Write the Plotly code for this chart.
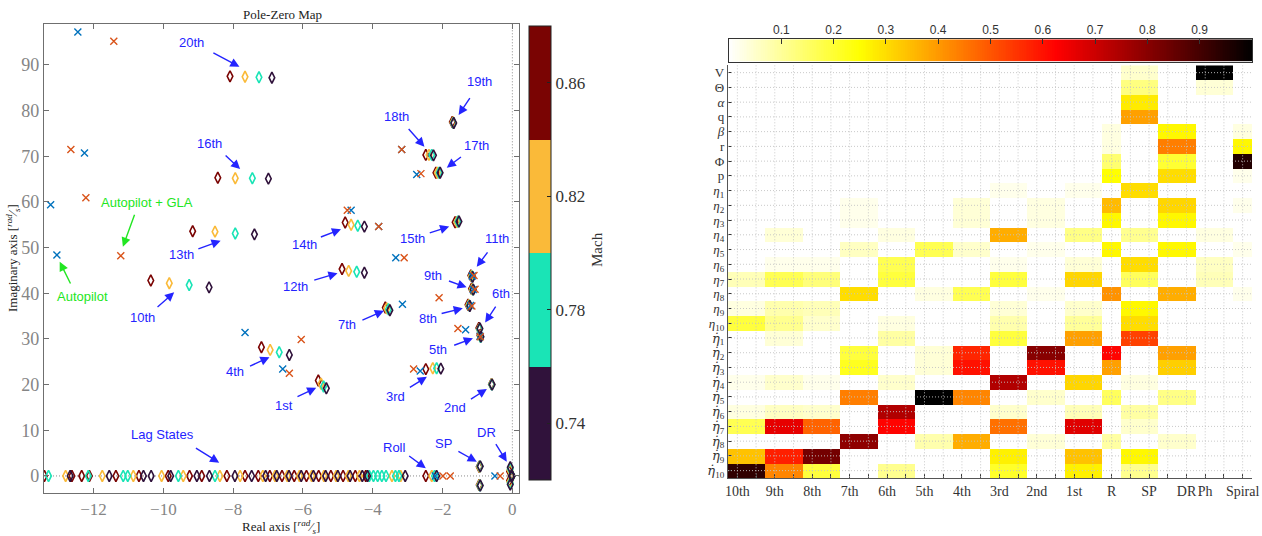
import plotly.graph_objects as go
import numpy as np

W, H = 1262, 536

# ======================= Pole-zero map data =======================
mach_values = [0.74, 0.78, 0.82, 0.86]
mach_scale = [[0, '#30123B'], [0.25, '#30123B'], [0.25, '#1AE4B6'], [0.5, '#1AE4B6'],
              [0.5, '#FABA39'], [0.75, '#FABA39'], [0.75, '#7A0403'], [1, '#7A0403']]

# mode order: 20th,16th,13th,10th,4th,1st,14th,12th,7th,19th,18th,17th,15th,11th,9th,8th,6th,5th,3rd,2nd,
#             Roll, SP+, SP-, DR+, DR-, Ph+, Ph-, Spiral
re_m086 = [-8.09, -8.44, -9.16, -10.36, -7.19, -5.56, -4.79, -4.88, -3.64, -1.72, -2.48, -2.19, -1.64, -1.19,
           -1.17, -1.27, -0.96, -0.93, -2.48, -0.60, -2.48, -0.95, -0.95, -0.08, -0.08, -0.03, -0.03, -0.01]
im_m086 = [87.5, 65.3, 53.6, 42.8, 28.2, 20.9, 55.5, 45.3, 36.9, 77.5, 70.3, 66.4, 55.55, 43.9,
           41.0, 37.5, 32.4, 30.8, 23.4, 20.1, 0.0, 2.0, -2.0, 1.0, -1.0, 0.1, -0.1, 0.0]
re_m082 = [-7.66, -7.94, -8.52, -9.83, -6.94, -5.48, -4.62, -4.69, -3.60, -1.70, -2.39, -2.15, -1.59, -1.17,
           -1.15, -1.25, -0.95, -0.92, -2.28, -0.59, -2.31, -0.94, -0.94, -0.07, -0.07, -0.03, -0.03, -0.01]
im_m082 = [87.4, 65.2, 53.5, 42.2, 27.6, 20.2, 55.0, 44.9, 36.7, 77.4, 70.3, 66.4, 55.6, 43.8,
           40.9, 37.4, 32.2, 30.6, 23.6, 20.1, 0.0, 2.0, -2.0, 1.3, -1.3, 0.1, -0.1, 0.0]
re_m078 = [-7.26, -7.45, -7.94, -9.26, -6.68, -5.41, -4.43, -4.46, -3.55, -1.69, -2.31, -2.10, -1.56, -1.15,
           -1.13, -1.23, -0.94, -0.91, -2.17, -0.59, -2.23, -0.93, -0.93, -0.06, -0.06, -0.02, -0.02, -0.01]
im_m078 = [87.3, 65.2, 53.1, 41.8, 27.1, 19.6, 54.8, 44.7, 36.5, 77.3, 70.3, 66.4, 55.7, 43.7,
           40.8, 37.3, 32.1, 30.4, 23.6, 20.0, 0.0, 2.1, -2.1, 1.6, -1.6, 0.1, -0.1, 0.0]
re_m074 = [-6.89, -6.99, -7.39, -8.69, -6.39, -5.33, -4.24, -4.24, -3.51, -1.68, -2.26, -2.07, -1.53, -1.14,
           -1.12, -1.22, -0.93, -0.90, -2.05, -0.58, -2.17, -0.92, -0.92, -0.06, -0.06, -0.02, -0.02, -0.01]
im_m074 = [87.2, 65.1, 52.9, 41.3, 26.5, 19.2, 54.6, 44.5, 36.3, 77.3, 70.2, 66.4, 55.7, 43.6,
           40.8, 37.2, 32.3, 30.5, 23.5, 20.0, 0.0, 2.1, -2.1, 1.9, -1.9, 0.1, -0.1, 0.0]

# aerodynamic lag states (real poles)
lag_m086 = [-13.41, -12.62, -12.34, -12.12, -11.36, -10.70, -9.86, -9.25, -8.90, -8.18, -7.66, -7.28,
            -6.95, -6.60, -6.25, -5.90, -5.55, -5.20, -4.85, -4.50, -4.20]
lag_m082 = [-12.80, -11.75, -10.86, -10.05, -9.43, -8.38, -7.80, -7.15, -6.80, -6.45, -6.10, -5.75,
            -5.40, -5.05, -4.70, -4.38, -3.45, -3.20]
lag_m078 = [-13.29, -12.15, -11.15, -11.02, -9.57, -8.52, -4.10, -3.98, -3.86, -3.74, -3.62, -3.35, -3.25]
lag_m074 = [-12.67, -11.55, -10.57, -10.35, -9.79, -9.04, -8.68, -7.95, -7.47, -7.07, -6.75, -6.40,
            -6.05, -5.70, -5.35, -5.00, -4.65, -4.30, -4.15, -3.07]

# closed-loop poles: Autopilot (blue x) and Autopilot + GLA (orange x)
ap_re = [-12.45, -12.26, -13.23, -13.05, -2.74, -3.17, -4.62, -3.83, -3.34, -1.34, -3.15, -6.58, -2.64,
         -7.66, -2.21, -0.50, -1.15, -1.12, -1.20, -0.93]
ap_im = [97.2, 70.7, 59.4, 48.4, 66.0, 71.5, 58.2, 54.6, 47.8, 32.0, 37.6, 23.4, 23.0,
         31.4, 0.0, 0.0, 43.8, 40.8, 37.3, 30.6]
gla_re = [-11.42, -12.65, -12.22, -11.22, -2.62, -3.17, -4.73, -3.83, -3.10, -2.10, -1.56, -6.05, -6.39,
          -2.83, -1.99, -1.78, -0.35, -1.10, -1.07, -1.16, -0.92]
gla_im = [95.2, 71.5, 60.9, 48.2, 66.2, 71.5, 58.2, 54.6, 47.8, 39.0, 32.3, 29.9, 22.5,
          23.4, 0.0, 0.0, 0.0, 43.9, 40.9, 37.2, 30.5]

# mode labels (text position, arrow tail, arrow head) in data units
mode_labels = ['20th', '16th', '13th', '10th', '4th', '1st', '14th', '12th', '7th', '19th', '18th', '17th',
               '15th', '11th', '9th', '8th', '6th', '5th', '3rd', '2nd', 'Lag States', 'Roll', 'SP', 'DR']
label_x = [-9.19, -8.68, -9.47, -10.59, -7.95, -6.54, -5.96, -6.20, -4.74, -0.95, -3.33, -1.02,
           -2.87, -0.43, -2.28, -2.42, -0.32, -2.12, -3.36, -1.64, -10.02, -3.39, -1.98, -0.75]
label_y = [95.0, 72.85, 48.4, 34.7, 22.8, 15.5, 50.6, 41.45, 33.1, 86.3, 78.7, 72.3,
           51.9, 52.1, 44.0, 34.5, 39.85, 27.6, 17.5, 14.95, 9.13, 6.28, 7.0, 9.48]
tail_x = [-8.61, -8.26, -9.04, -10.21, -7.56, -6.20, -5.53, -5.72, -4.34, -1.19, -3.01, -1.43,
          -2.41, -0.68, -1.86, -2.07, -0.45, -1.71, -2.98, -1.23, -9.11, -3.00, -1.59, -0.50]
tail_y = [92.8, 70.5, 49.6, 36.7, 23.9, 17.2, 52.2, 42.8, 34.0, 83.05, 76.3, 70.1,
          53.1, 49.3, 42.8, 35.5, 37.4, 28.5, 19.2, 16.6, 6.28, 4.6, 5.54, 7.29]
head_x = [-7.82, -7.80, -8.36, -9.69, -6.96, -5.62, -4.91, -5.01, -3.68, -1.54, -2.52, -1.88,
          -1.81, -1.02, -1.31, -1.42, -0.78, -1.13, -2.45, -0.73, -8.40, -2.48, -1.02, -0.16]
head_y = [89.6, 67.2, 51.5, 40.2, 26.0, 19.3, 54.0, 44.4, 36.2, 79.05, 72.1, 67.5,
          54.6, 45.8, 41.3, 36.7, 33.6, 30.15, 21.7, 19.05, 2.91, 1.69, 3.13, 3.13]

ctrl_labels = ['Autopilot + GLA', 'Autopilot']
ctrl_x = [-10.48, -12.31]
ctrl_y = [59.8, 39.3]
ctrl_tail_x = [-10.81, -12.64]
ctrl_tail_y = [57.5, 41.8]
ctrl_head_x = [-11.16, -12.97]
ctrl_head_y = [50.2, 46.9]

x_ticks = [-12, -10, -8, -6, -4, -2, 0]
y_ticks = [0, 10, 20, 30, 40, 50, 60, 70, 80, 90]

# ======================= Participation factor data =======================
DOT = '<span style="font-family:DejaVu Serif"><i>η̇</i></span>'
row_labels = ['V', 'Θ', '<i>α</i>', 'q', '<i>β</i>', 'r', 'Φ', 'p'] + \
             ['<i>η</i><sub>%d</sub>' % i for i in range(1, 11)] + \
             [DOT + '<sub>%d</sub>' % i for i in range(1, 11)]

#            V  Θ  α  q  β  r  Φ  p | η1..η10 | η̇1..η̇10
pf_10th = [0, 0, 0, 0, 0, 0, 0, 0, 0, 0, 0, 0, 0, 0, 0.07, 0, 0.03, 0.19,
           0, 0, 0, 0.02, 0, 0.03, 0.17, 0, 0.34, 0.93]
pf_9th = [0, 0, 0, 0, 0, 0, 0, 0, 0, 0, 0, 0.04, 0, 0.02, 0.17, 0, 0.08, 0.11,
          0.04, 0, 0, 0.05, 0, 0.06, 0.66, 0, 0.58, 0.43]
pf_8th = [0, 0, 0, 0, 0, 0, 0, 0, 0, 0, 0, 0, 0, 0.02, 0.13, 0, 0.07, 0.05,
          0, 0, 0, 0.02, 0, 0.05, 0.48, 0, 0.83, 0.19]
pf_7th = [0, 0, 0, 0, 0, 0, 0, 0, 0, 0.02, 0.02, 0, 0.06, 0, 0, 0.30, 0, 0,
          0, 0.19, 0.22, 0, 0.44, 0, 0, 0.79, 0, 0]
pf_6th = [0, 0, 0, 0, 0, 0, 0, 0, 0, 0, 0, 0.03, 0, 0.17, 0.19, 0, 0, 0.03,
          0.09, 0, 0, 0.05, 0, 0.74, 0.62, 0, 0, 0.11]
pf_5th = [0, 0, 0, 0, 0, 0, 0, 0, 0, 0, 0, 0, 0.17, 0, 0, 0.03, 0, 0,
          0, 0.04, 0.04, 0, 1.0, 0, 0, 0.08, 0, 0]
pf_4th = [0, 0, 0, 0, 0, 0, 0, 0, 0, 0.04, 0.04, 0, 0.05, 0, 0, 0.17, 0, 0,
          0, 0.57, 0.60, 0, 0.43, 0, 0, 0.37, 0, 0]
pf_3rd = [0, 0, 0, 0, 0, 0, 0, 0, 0.02, 0, 0, 0.37, 0, 0.02, 0.19, 0, 0.04, 0.08,
          0.19, 0, 0, 0.74, 0, 0.05, 0.46, 0, 0.27, 0.21]
pf_2nd = [0, 0, 0, 0, 0, 0, 0, 0, 0, 0.03, 0.03, 0, 0.02, 0, 0, 0.02, 0, 0,
          0, 0.80, 0.60, 0, 0.05, 0, 0, 0.04, 0, 0]
pf_1st = [0, 0, 0, 0, 0, 0, 0, 0, 0.02, 0, 0, 0.12, 0, 0.04, 0.31, 0, 0.05, 0.10,
          0.39, 0, 0, 0.31, 0, 0.07, 0.67, 0, 0.34, 0.27]
pf_R = [0, 0, 0, 0, 0.03, 0.03, 0.14, 0.25, 0, 0.35, 0.26, 0, 0.26, 0, 0, 0.41, 0, 0,
        0, 0.62, 0.39, 0, 0.16, 0, 0, 0.09, 0, 0]
pf_SP = [0.05, 0.125, 0.28, 0.39, 0, 0, 0, 0, 0.30, 0, 0, 0.11, 0, 0.30, 0.16, 0, 0.26, 0.30,
         0.53, 0, 0, 0.03, 0, 0.09, 0.05, 0, 0.26, 0.11]
pf_DR = [0, 0, 0, 0, 0.26, 0.44, 0.20, 0.30, 0, 0.31, 0.26, 0, 0.26, 0, 0, 0.37, 0, 0,
         0, 0.39, 0.32, 0, 0.12, 0, 0, 0.05, 0, 0]
pf_Ph = [1.0, 0.04, 0, 0, 0, 0, 0, 0, 0, 0, 0, 0.03, 0, 0.06, 0.07, 0, 0, 0,
         0, 0, 0, 0, 0, 0, 0, 0, 0, 0]
pf_Spiral = [0, 0, 0, 0, 0.03, 0.26, 0.95, 0.02, 0, 0.02, 0, 0, 0.02, 0, 0, 0.02, 0, 0,
             0, 0, 0, 0, 0, 0, 0, 0, 0, 0]

pf_groups = [pf_10th, pf_9th, pf_8th, pf_7th, pf_6th, pf_5th, pf_4th, pf_3rd, pf_2nd, pf_1st,
             pf_R, pf_SP, pf_DR, pf_Ph, pf_Spiral]
group_widths = [2, 2, 2, 2, 2, 2, 2, 2, 2, 2, 1, 2, 2, 2, 1]   # eigenvalues per mode
col_tick_labels = ['10th', '9th', '8th', '7th', '6th', '5th', '4th', '3rd', '2nd', '1st', 'R', 'SP',
                   'DR', 'Ph', 'Spiral']
col_tick_pos = [1, 3, 5, 7, 9, 11, 13, 15, 17, 19, 21, 23, 25, 26, 28]
cbar_ticks = [0.1, 0.2, 0.3, 0.4, 0.5, 0.6, 0.7, 0.8, 0.9]

hot_r = [[0, '#ffffff'], [0.25, '#ffff00'], [0.625, '#ff0000'], [1, '#000000']]

# ======================= Figure =======================
SERIF = 'Liberation Serif'
SANS = 'Liberation Sans'

fig = go.Figure()

# --- Mach-coloured open-loop poles ---
mach_re = [re_m074, re_m078, re_m082, re_m086]
mach_im = [im_m074, im_m078, im_m082, im_m086]
mach_lag = [lag_m074, lag_m078, lag_m082, lag_m086]
order = [3, 2, 1, 0]
for k in order:
    m = mach_values[k]
    xs = list(mach_lag[k]) + list(mach_re[k])
    ys = [0.0] * len(mach_lag[k]) + list(mach_im[k])
    fig.add_trace(go.Scatter(
        x=xs, y=ys, mode='markers', xaxis='x', yaxis='y', showlegend=False,
        marker=dict(symbol='diamond-tall-open', size=8, color=[m] * len(xs),
                    colorscale=mach_scale, cmin=0.72, cmax=0.88,
                    line=dict(width=1.6),
                    showscale=(k == 3),
                    colorbar=dict(
                        x=529 / W, xanchor='left', y=1 - 253.2 / H, yanchor='middle',
                        len=454.3 / H, lenmode='fraction', thickness=22, thicknessmode='pixels',
                        tickvals=[0.74, 0.78, 0.82, 0.86], ticktext=['0.74', '0.78', '0.82', '0.86'],
                        ticks='inside', ticklen=4, tickcolor='#222', tickwidth=1,
                        outlinewidth=1, outlinecolor='#222', xpad=0, ypad=0,
                        tickfont=dict(family=SERIF, size=17, color='#333'))
                    )))

fig.add_trace(go.Scatter(x=ap_re, y=ap_im, mode='markers', xaxis='x', yaxis='y', showlegend=False,
                         marker=dict(symbol='x-thin-open', size=7, color='#0072BD',
                                     line=dict(width=1.4, color='#0072BD'))))
fig.add_trace(go.Scatter(x=gla_re, y=gla_im, mode='markers', xaxis='x', yaxis='y', showlegend=False,
                         marker=dict(symbol='x-thin-open', size=7, color='#D95319',
                                     line=dict(width=1.4, color='#D95319'))))

# --- participation-factor heatmap ---
z = [[g[r] for g, w in zip(pf_groups, group_widths) for _ in range(w)] for r in range(len(row_labels))]
ncol = sum(group_widths)
nrow = len(row_labels)
cols = list(range(1, ncol + 1))
rows = list(range(1, nrow + 1))
fig.add_trace(go.Heatmap(z=z, x=cols, y=rows, xaxis='x2', yaxis='y2', colorscale=hot_r,
                         zmin=0, zmax=1, showscale=False, hoverinfo='skip'))

# --- horizontal colour bar drawn as a gradient strip ---
grad = np.linspace(0, 1, 300)
fig.add_trace(go.Heatmap(z=[grad], x=grad, y=[0], xaxis='x3', yaxis='y3', colorscale=hot_r,
                         zmin=0, zmax=1, showscale=False, hoverinfo='skip'))

ticktext_cols = [''] * ncol
for lab, c in zip(col_tick_labels, col_tick_pos):
    ticktext_cols[c - 1] = lab

axis_col = '#6f6f6f'
fig.update_layout(
    width=W, height=H, margin=dict(l=0, r=0, t=0, b=0, autoexpand=False),
    paper_bgcolor='white', plot_bgcolor='white',
    font=dict(family=SERIF, color='#333'),
    xaxis=dict(domain=[44 / W, 519 / W], range=[-13.42, 0.19], anchor='y', automargin=False,
               tickvals=x_ticks, ticks='inside', ticklen=5, tickcolor=axis_col,
               showline=True, linecolor=axis_col, linewidth=1.2, mirror='ticks',
               showgrid=False, zeroline=False,
               tickfont=dict(family=SERIF, size=17, color='#858585')),
    yaxis=dict(domain=[1 - 493.3 / H, 1 - 24.3 / H], range=[-3.8, 98.9], anchor='x', automargin=False,
               tickvals=y_ticks, ticks='inside', ticklen=5, tickcolor=axis_col,
               showline=True, linecolor=axis_col, linewidth=1.2, mirror='ticks',
               showgrid=False, zeroline=False,
               tickfont=dict(family=SERIF, size=18, color='#858585')),
    xaxis2=dict(domain=[728 / W, 1252 / W], range=[0.5, ncol + 0.5], anchor='y2', automargin=False,
                tickvals=cols, ticktext=ticktext_cols, ticks='inside', ticklen=4, tickangle=0,
                tickcolor='#333', showline=True, linecolor='#555', linewidth=1.3,
                showgrid=False, zeroline=False,
                tickfont=dict(family=SERIF, size=14, color='#333')),
    yaxis2=dict(domain=[1 - 478 / H, 1 - 65.3 / H], range=[nrow + 0.5, 0.5], anchor='x2', automargin=False,
                tickvals=rows, ticktext=row_labels, ticks='inside', ticklen=4,
                tickcolor='#333', showline=True, linecolor='#555', linewidth=1.3,
                showgrid=False, zeroline=False,
                tickfont=dict(family=SERIF, size=13, color='#333')),
    xaxis3=dict(domain=[729 / W, 1252 / W], range=[0, 1], anchor='y3', side='top', automargin=False,
                tickvals=cbar_ticks, ticks='inside', ticklen=5, tickcolor='#333', tickangle=0,
                showline=True, linecolor='#333', linewidth=1, mirror=True,
                showgrid=False, zeroline=False,
                tickfont=dict(family=SANS, size=12, color='#333')),
    yaxis3=dict(domain=[1 - 61.5 / H, 1 - 39.3 / H], range=[-0.5, 0.5], anchor='x3', automargin=False,
                showticklabels=False, ticks='', showline=True, linecolor='#333', linewidth=1,
                mirror=True, showgrid=False, zeroline=False),
)

dotted = '1px,2px'
shapes = [
    dict(type='line', xref='x', yref='y domain', x0=0, x1=0, y0=0, y1=1,
         line=dict(color='#8c8c8c', width=1, dash=dotted), layer='below'),
    dict(type='line', xref='x domain', yref='y', x0=0, x1=1, y0=0, y1=0,
         line=dict(color='#8c8c8c', width=1, dash=dotted), layer='below'),
]
for c in cols:
    shapes.append(dict(type='line', xref='x2', yref='y2', x0=c, x1=c, y0=0.5, y1=nrow + 0.5,
                       line=dict(color='rgba(195,195,195,0.9)', width=1, dash=dotted), layer='above'))
for r in rows:
    shapes.append(dict(type='line', xref='x2', yref='y2', x0=0.5, x1=ncol + 0.5, y0=r, y1=r,
                       line=dict(color='rgba(195,195,195,0.9)', width=1, dash=dotted), layer='above'))
fig.update_layout(shapes=shapes)

ann = []
blue = '#2424ff'
green = '#22e622'
for lab, tx, ty, ax_, ay_, hx, hy in zip(mode_labels, label_x, label_y, tail_x, tail_y, head_x, head_y):
    ann.append(dict(x=hx, y=hy, ax=ax_, ay=ay_, xref='x', yref='y', axref='x', ayref='y', text='',
                    showarrow=True, arrowhead=2, arrowsize=1.3, arrowwidth=1.4, arrowcolor=blue,
                    standoff=0, startstandoff=0))
    ann.append(dict(x=tx, y=ty, xref='x', yref='y', text=lab, showarrow=False,
                    xanchor='center', yanchor='middle',
                    font=dict(family=SANS, size=13, color=blue)))
for lab, tx, ty, ax_, ay_, hx, hy in zip(ctrl_labels, ctrl_x, ctrl_y, ctrl_tail_x, ctrl_tail_y,
                                         ctrl_head_x, ctrl_head_y):
    ann.append(dict(x=hx, y=hy, ax=ax_, ay=ay_, xref='x', yref='y', axref='x', ayref='y', text='',
                    showarrow=True, arrowhead=2, arrowsize=1.3, arrowwidth=1.4, arrowcolor=green,
                    standoff=0, startstandoff=0))
    ann.append(dict(x=tx, y=ty, xref='x', yref='y', text=lab, showarrow=False,
                    xanchor='center', yanchor='middle',
                    font=dict(family=SANS, size=13, color=green)))

ann.append(dict(x=282 / W, y=1 - 14 / H, xref='paper', yref='paper', text='Pole-Zero Map',
                xanchor='center', yanchor='middle',
                showarrow=False, font=dict(family=SERIF, size=13, color='#222')))
ann.append(dict(x=281 / W, y=1 - 527 / H, xref='paper', yref='paper',
                xanchor='center', yanchor='middle',
                text='Real axis [<sup><i>rad</i></sup>⁄<sub><i>s</i></sub>]',
                showarrow=False, font=dict(family=SERIF, size=13, color='#222')))
ann.append(dict(x=13 / W, y=1 - 258 / H, xref='paper', yref='paper', textangle=-90,
                xanchor='center', yanchor='middle',
                text='Imaginary axis [<sup><i>rad</i></sup>⁄<sub><i>s</i></sub>]',
                showarrow=False, font=dict(family=SERIF, size=13, color='#222')))
ann.append(dict(x=597 / W, y=1 - 250 / H, xref='paper', yref='paper', textangle=-90, text='Mach',
                xanchor='center', yanchor='middle',
                showarrow=False, font=dict(family=SERIF, size=15, color='#333')))
fig.update_layout(annotations=ann)

fig.write_html('out.html')
